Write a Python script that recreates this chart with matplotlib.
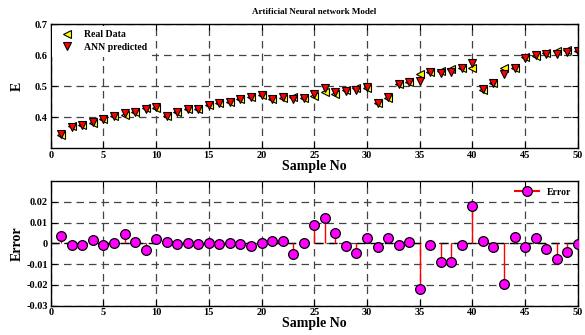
import numpy as np
import matplotlib
matplotlib.use('Agg')
import matplotlib.pyplot as plt

plt.rcParams['font.family'] = ['Liberation Serif', 'DejaVu Serif']
plt.rcParams['font.weight'] = 'bold'

# data
samples = np.arange(1, 51)
real_data = [0.343, 0.370, 0.375, 0.382, 0.395, 0.403, 0.408, 0.416, 0.428, 0.429,
             0.402, 0.416, 0.425, 0.427, 0.438, 0.447, 0.449, 0.457, 0.466, 0.472,
             0.458, 0.463, 0.464, 0.462, 0.467, 0.482, 0.476, 0.486, 0.494, 0.493,
             0.446, 0.462, 0.507, 0.512, 0.539, 0.545, 0.550, 0.555, 0.558, 0.558,
             0.489, 0.511, 0.559, 0.557, 0.593, 0.597, 0.606, 0.613, 0.615, 0.614]
ann_pred = [0.347, 0.369, 0.374, 0.383, 0.394, 0.403, 0.412, 0.417, 0.425, 0.431,
            0.403, 0.415, 0.425, 0.427, 0.438, 0.446, 0.449, 0.457, 0.465, 0.472,
            0.459, 0.464, 0.459, 0.462, 0.476, 0.494, 0.481, 0.485, 0.489, 0.496,
            0.444, 0.465, 0.506, 0.512, 0.517, 0.544, 0.541, 0.546, 0.557, 0.576,
            0.490, 0.509, 0.539, 0.560, 0.591, 0.600, 0.603, 0.605, 0.611, 0.614]
error = [0.0037, -0.0008, -0.0010, 0.0014, -0.0007, 0.0000, 0.0045, 0.0008, -0.0032, 0.0019,
         0.0008, -0.0005, 0.0002, -0.0003, 0.0002, -0.0005, 0.0000, -0.0002, -0.0013, 0.0000,
         0.0010, 0.0013, -0.0050, 0.0003, 0.0087, 0.0120, 0.0048, -0.0012, -0.0045, 0.0027,
         -0.0016, 0.0026, -0.0008, 0.0005, -0.0221, -0.0008, -0.0092, -0.0092, -0.0007, 0.0179,
         0.0011, -0.0018, -0.0197, 0.0032, -0.0016, 0.0026, -0.0026, -0.0077, -0.0043, -0.0002]

fig = plt.figure(figsize=(5.85, 3.35), dpi=100)
ax1 = fig.add_axes([0.0867, 0.558, 0.901, 0.370])
ax2 = fig.add_axes([0.0867, 0.0875, 0.901, 0.372])

grid_kw = dict(color='#444444', linestyle=(0, (6, 4)), linewidth=0.9)

# top: real vs predicted
ax1.plot(samples, real_data, '<', color='yellow', markeredgecolor='black',
         markersize=6, markeredgewidth=0.8, label='Real Data')
ax1.plot(samples, ann_pred, 'v', color='red', markeredgecolor='black',
         markersize=6, markeredgewidth=0.8, label='ANN predicted')
ax1.set_xlim(0, 50)
ax1.set_ylim(0.3, 0.7)
ax1.set_yticks([0.4, 0.5, 0.6, 0.7])
ax1.set_xticks(range(0, 51, 5))
ax1.grid(True, **grid_kw)
ax1.set_title('Artificial Neural network Model', fontsize=6.5, fontweight='bold', pad=7)
ax1.set_xlabel('Sample No', fontsize=10, fontweight='bold', labelpad=0)
ax1.set_ylabel('E', fontsize=10, fontweight='bold', labelpad=8)
leg = ax1.legend(loc='upper left', fontsize=7, handletextpad=0.8,
                 borderaxespad=0.15, borderpad=0.5, labelspacing=0.35,
                 frameon=True, fancybox=False, framealpha=1.0,
                 facecolor='white', edgecolor='none')

# bottom: error stems
ax2.axhline(0, color='black', linestyle=(0, (6, 4)), linewidth=1.0, zorder=1)
ax2.vlines(samples, 0, error, color='red', linewidth=1.0, zorder=2)
ax2.plot(samples, error, 'o', color='magenta', markeredgecolor='black',
         markersize=7, markeredgewidth=0.9, zorder=3)
ax2.plot([], [], '-o', color='red', markerfacecolor='magenta', markeredgecolor='black',
         markersize=7, markeredgewidth=0.9, label='Error')
ax2.set_xlim(0, 50)
ax2.set_ylim(-0.03, 0.03)
ax2.set_yticks([-0.03, -0.02, -0.01, 0, 0.01, 0.02])
ax2.set_yticklabels(['-0.03', '-0.02', '-0.01', '0', '0.01', '0.02'])
ax2.set_xticks(range(0, 51, 5))
ax2.grid(True, **grid_kw)
ax2.set_xlabel('Sample No', fontsize=10, fontweight='bold', labelpad=0)
ax2.set_ylabel('Error', fontsize=10, fontweight='bold', labelpad=2)
ax2.legend(loc='upper right', frameon=False, fontsize=7, handlelength=2.5,
           borderaxespad=0.3)

for ax in (ax1, ax2):
    ax.tick_params(direction='in', top=True, right=True, labelsize=7.5, length=4, pad=2)
    for lab in ax.get_xticklabels() + ax.get_yticklabels():
        lab.set_fontweight('bold')
    for sp in ax.spines.values():
        sp.set_linewidth(1.0)
    ax.set_axisbelow(True)

fig.savefig('out.png', dpi=100)
